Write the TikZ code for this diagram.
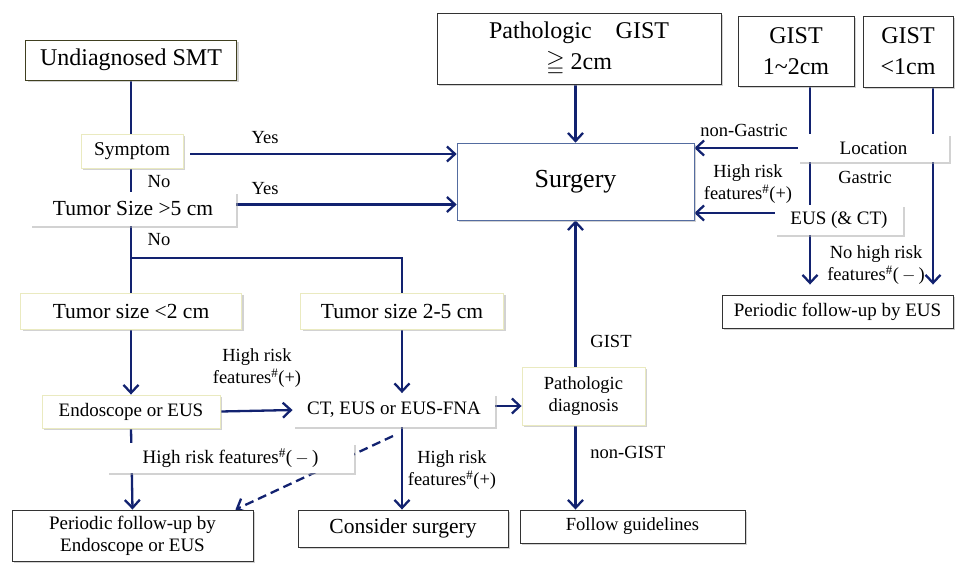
\documentclass[tikz,border=0pt]{standalone}
\usepackage{amssymb}
\usepackage{fontspec}
\setmainfont{Liberation Serif}
\usetikzlibrary{arrows.meta,positioning,calc,shadows,backgrounds}
\definecolor{navy}{RGB}{18,34,112}
\definecolor{pale}{RGB}{234,234,192}
\definecolor{olivedark}{RGB}{64,64,32}
\definecolor{steel}{RGB}{84,108,160}
\newcommand{\fsz}[2]{\fontsize{#1}{#2}\selectfont}
\newcommand{\hash}{\textsuperscript{\#}}

\begin{document}
\begin{tikzpicture}[x=1pt,y=-1pt,>={Straight Barb[length=8pt,width=15pt]},
   bx/.style={draw=black!80,fill=white,line width=.9pt,inner sep=0pt,align=center,
     drop shadow={shadow xshift=2pt,shadow yshift=-2pt,fill=black!35}},
   yb/.style={bx,draw=pale},
   sb/.style={bx,draw=none},
   lb/.style={inner sep=0pt,align=center,font=\fsz{18.5}{22}},
   ln/.style={navy,line width=2.3pt},
   ar/.style={ln,->}]
  \useasboundingbox (0,0) rectangle (956,563);
  % boxes
  \node[bx,draw=olivedark,minimum width=211,minimum height=40,font=\fsz{24}{28}] (und) at (131,60) {Undiagnosed\ SMT};
  \node[bx,minimum width=284,minimum height=71,font=\fsz{24}{31}] (pgist) at (579,48.5) {Pathologic\quad GIST\\$\geqq$ 2cm};
  \node[bx,minimum width=116,minimum height=70,font=\fsz{24}{31}] (g12) at (796,51) {GIST\\1\textasciitilde2cm};
  \node[bx,minimum width=90,minimum height=71,font=\fsz{24}{31}] (g1) at (908,51.5) {GIST\\<1cm};
  \node[bx,draw=steel,line width=.7pt,minimum width=237,minimum height=77,font=\fsz{26}{30}] (surg) at (575.5,181.5) {Surgery};
  \node[yb,minimum width=102,minimum height=34,font=\fsz{19.5}{22}] (symp) at (132,151) {Symptom};
  \node[sb,minimum width=206,minimum height=34,font=\fsz{21.5}{24}] (ts5) at (133,208.5) {Tumor Size >5 cm};
  \node[yb,minimum width=221,minimum height=36,font=\fsz{21.5}{24}] (ts2) at (131,311) {Tumor size <2 cm};
  \node[yb,minimum width=203,minimum height=36,font=\fsz{21.5}{24}] (ts25) at (402,311) {Tumor size 2-5 cm};
  \node[yb,minimum width=178,minimum height=33,font=\fsz{19}{22}] (endo) at (131,411.5) {Endoscope or EUS};
  \node[sb,minimum width=202,minimum height=33,font=\fsz{19}{22}] (ct) at (394,410) {CT, EUS or EUS-FNA};
  \node[yb,minimum width=123,minimum height=58,font=\fsz{18.5}{22}] (pdiag) at (583.5,396) {Pathologic\\diagnosis};
  \node[sb,minimum width=247,minimum height=30,font=\fsz{19}{22}] (hrm) at (230.5,458) {High risk features\hash(\,$-$\,)};
  \node[bx,minimum width=241,minimum height=51,font=\fsz{19}{22}] (pfe) at (132.5,535.5) {Periodic follow-up by\\Endoscope or\ EUS};
  \node[bx,minimum width=210,minimum height=37,font=\fsz{21.5}{24}] (cons) at (403,528.5) {Consider surgery};
  \node[bx,minimum width=225,minimum height=33,font=\fsz{18.5}{22}] (fg) at (632.5,526.5) {Follow guidelines};
  \node[sb,minimum width=151,minimum height=28,font=\fsz{19}{22}] (loc) at (873.5,148) {Location};
  \node[sb,minimum width=128,minimum height=30,font=\fsz{19}{22}] (eus) at (839,220) {EUS (\& CT)};
  \node[bx,minimum width=231,minimum height=33,font=\fsz{19}{22}] (pfu) at (837.5,311.5) {Periodic follow-up by EUS};
  % labels
  \node[lb] (yes1) at (265,138) {Yes};
  \node[lb] (yes2) at (265,189) {Yes};
  \node[lb] (no1) at (159,182) {No};
  \node[lb] (no2) at (159,240) {No};
  \node[lb] (ngas) at (744,130) {non-Gastric};
  \node[lb] (hr1) at (748,184) {High risk\\features\hash(+)};
  \node[lb] (gas) at (865,177) {Gastric};
  \node[lb] (nhr) at (876,265) {No high risk\\features\hash(\,$-$\,)};
  \node[lb] (hr2) at (257,368) {High risk\\features\hash(+)};
  \node[lb] (gist) at (611,341) {GIST};
  \node[lb] (ngist) at (628,452) {non-GIST};
  \node[lb] (hr3) at (452,470) {High risk\\features\hash(+)};
  \coordinate (br) at (131,258);
  \coordinate (dsh) at (393,436);
  % connectors
  \begin{scope}[on background layer]
    \draw[ln] (und.south) -- (ts2.north);
    \draw[ln] (br) -| (ts25.north);
    \draw[ar,shorten <=7pt] ([yshift=-3pt]symp.east) -- ([yshift=-3pt]symp.east -| surg.west);
    \draw[ar] ([yshift=4pt]ts5.east) -- ([yshift=4pt]ts5.east -| surg.west);
    \draw[ar] (surg.north |- pgist.south) -- (surg.north);
    \draw[ar] (surg.south |- pdiag.north) -- (surg.south);
    \draw[ar] (surg.south |- pdiag.south) -- (surg.south |- fg.north);
    \draw[ar] (ts2.south) -- (endo.north);
    \draw[ar] (ts25.south) -- (ts25.south |- ct.north);
    \draw[ar] (endo.east) -- (ct.west);
    \draw[ar] ([yshift=4pt]ct.east) -- ([yshift=4pt]ct.east -| pdiag.west);
    \draw[ar] (ts25.south |- ct.south) -- (ts25.south |- cons.north);
    \draw[ar,dash pattern=on 9pt off 5pt] (dsh) -- ([xshift=-18pt]pfe.north east);
    \draw[ar] (endo.south) -- (pfe.north);
    \draw[ln] ([xshift=14pt]g12.south) -- ([xshift=14pt]g12.south |- eus.north);
    \draw[ar,shorten >=10pt] ([xshift=14pt]g12.south |- eus.south) -- ([xshift=14pt]g12.south |- pfu.north);
    \draw[ar,shorten >=10pt] ([xshift=25pt]g1.south) -- ([xshift=25pt]g1.south |- pfu.north);
    \draw[ar] (loc.west) -- (loc.west -| surg.east);
    \draw[ar] ([yshift=7pt]eus.west) -- ([yshift=7pt]eus.west -| surg.east);
  \end{scope}
\end{tikzpicture}
\end{document}
